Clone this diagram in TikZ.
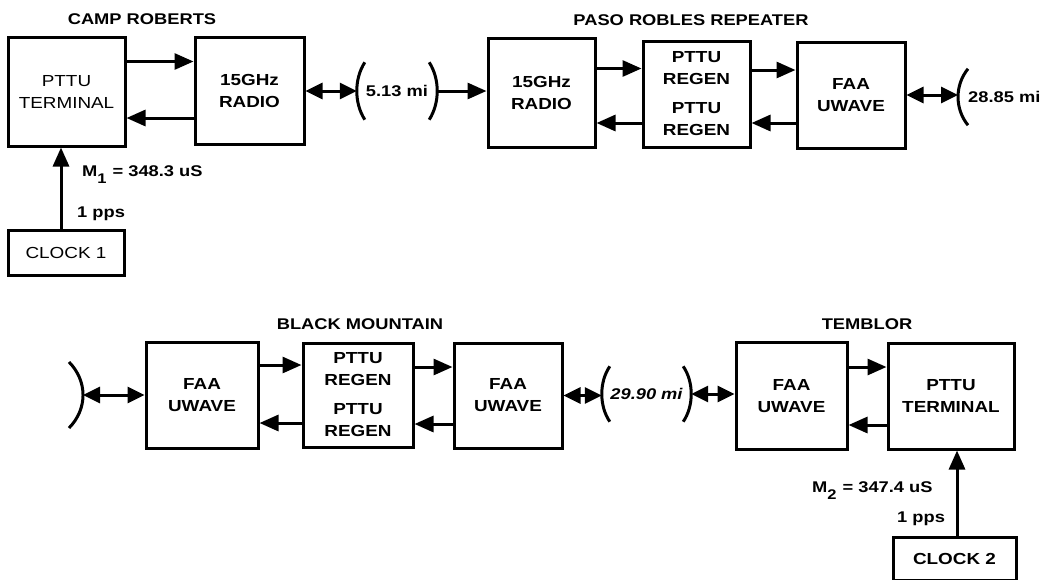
\documentclass[tikz,border=0pt]{standalone}
\usepackage{fontspec}
\setmainfont{Liberation Sans}[FakeStretch=1.18]
\usepackage{tikz}
\usetikzlibrary{arrows.meta}

\begin{document}
\begin{tikzpicture}[x=1pt, y=-1pt,
  box/.style={draw, line width=3pt, inner sep=0pt, align=center, font=\fontsize{16}{22}\selectfont\bfseries},
  title/.style={anchor=base, inner sep=0pt, font=\fontsize{15.5}{18}\selectfont\bfseries},
  lbl/.style={anchor=base west, inner sep=0pt, font=\fontsize{15.5}{18}\selectfont\bfseries},
  dist/.style={inner sep=0pt, font=\fontsize{15.5}{18}\selectfont\bfseries},
  arrow/.style={-{Triangle[length=19pt,width=16pt]}, line width=3pt},
  both/.style={{Triangle[length=17pt,width=16pt]}-{Triangle[length=17pt,width=16pt]}, line width=3pt},
  paren/.style={line width=3pt}
]
\useasboundingbox (0,0) rectangle (1043,579);

% CAMP ROBERTS
\node[title] (camp) at (142,24) {CAMP ROBERTS};
\node[box, minimum width=117pt, minimum height=109pt, font=\fontsize{16}{22}\selectfont] (term1) at (66.5,91.5) {PTTU\\TERMINAL};
\node[box, minimum width=109pt, minimum height=107pt] (radio1) at (249.5,91) {15GHz\\RADIO};
\node[box, minimum width=116pt, minimum height=45pt, font=\fontsize{16}{18}\selectfont] (clk1) at (66,252.5) {CLOCK 1};

\draw[arrow] ([yshift=30pt]term1.east) -- ([yshift=30pt]term1.east -| radio1.west);
\draw[arrow] ([yshift=-27pt]radio1.west) -- ([yshift=-27pt]radio1.west -| term1.east);
\draw[arrow] ([xshift=-5pt]clk1.north) -- ([xshift=-5pt]clk1.north |- term1.south);
\node[lbl] (m1) at (82,176) {M\raisebox{-7pt}{\fontsize{14}{14}\selectfont 1}\hspace{6pt}= 348.3 uS};
\node[lbl] (pps1) at (77,217) {1 pps};

% first hop
\node[dist, minimum width=80pt, minimum height=57pt] (hop1) at (397,91) {5.13 mi};
\draw[paren] ([xshift=8pt]hop1.north west) .. controls ([shift={(-2.7pt,12pt)}]hop1.west) and ([shift={(-2.7pt,-12pt)}]hop1.west) .. ([xshift=8pt]hop1.south west);
\draw[paren] ([xshift=-8pt]hop1.north east) .. controls ([shift={(2.7pt,12pt)}]hop1.east) and ([shift={(2.7pt,-12pt)}]hop1.east) .. ([xshift=-8pt]hop1.south east);
\draw[both] (radio1) -- (hop1);

% PASO ROBLES REPEATER
\node[title] (paso) at (691,25) {PASO ROBLES REPEATER};
\node[box, minimum width=107pt, minimum height=109pt] (radio2) at (541.5,92.5) {15GHz\\RADIO};
\node[box, minimum width=107pt, minimum height=106pt] (regen1) at (696.5,94) {PTTU\\REGEN\\[7pt]PTTU\\REGEN};
\node[box, minimum width=108pt, minimum height=106pt] (faa1) at (851,95) {FAA\\UWAVE};

\draw[arrow] (hop1) -- (hop1 -| radio2.west);
\draw[arrow] ([yshift=24pt]radio2.east) -- ([yshift=24pt]radio2.east -| regen1.west);
\draw[arrow] ([yshift=-29pt]regen1.west) -- ([yshift=-29pt]regen1.west -| radio2.east);
\draw[arrow] ([yshift=24pt]regen1.east) -- ([yshift=24pt]regen1.east -| faa1.west);
\draw[arrow] ([yshift=-28pt]faa1.west) -- ([yshift=-28pt]faa1.west -| regen1.east);

% second hop
\node[dist, anchor=west, inner xsep=10pt, minimum height=56pt] (hop2) at (958,97) {28.85 mi};
\draw[paren] ([xshift=10pt]hop2.north west) .. controls ([shift={(-3.3pt,12pt)}]hop2.west) and ([shift={(-3.3pt,-12pt)}]hop2.west) .. ([xshift=10pt]hop2.south west);
\draw[both] (faa1) -- (faa1 -| hop2.west);

% BLACK MOUNTAIN
\coordinate (hop3) at (83,395);
\draw[paren] ([shift={(-14pt,33pt)}]hop3) .. controls ([shift={(4.7pt,14pt)}]hop3) and ([shift={(4.7pt,-14pt)}]hop3) .. ([shift={(-14pt,-33pt)}]hop3);
\node[title] (black) at (360,329) {BLACK MOUNTAIN};
\node[box, minimum width=112pt, minimum height=106pt] (faa2) at (202,395) {FAA\\UWAVE};
\node[box, minimum width=110pt, minimum height=104pt] (regen2) at (358,395) {PTTU\\REGEN\\[7pt]PTTU\\REGEN};
\node[box, minimum width=108pt, minimum height=105pt] (faa3) at (508,395.5) {FAA\\UWAVE};

\draw[both] (hop3) -- (hop3 -| faa2.west);
\draw[arrow] ([yshift=30pt]faa2.east) -- ([yshift=30pt]faa2.east -| regen2.west);
\draw[arrow] ([yshift=-28pt]regen2.west) -- ([yshift=-28pt]regen2.west -| faa2.east);
\draw[arrow] ([yshift=28pt]regen2.east) -- ([yshift=28pt]regen2.east -| faa3.west);
\draw[arrow] ([yshift=-28.5pt]faa3.west) -- ([yshift=-28.5pt]faa3.west -| regen2.east);

% third hop
\node[dist, minimum width=89pt, minimum height=55pt, font=\fontsize{15.5}{18}\selectfont\bfseries\itshape] (hop4) at (646.5,394) {29.90 mi};
\draw[paren] ([xshift=8pt]hop4.north west) .. controls ([shift={(-2.7pt,12pt)}]hop4.west) and ([shift={(-2.7pt,-12pt)}]hop4.west) .. ([xshift=8pt]hop4.south west);
\draw[paren] ([xshift=-8pt]hop4.north east) .. controls ([shift={(2.7pt,12pt)}]hop4.east) and ([shift={(2.7pt,-12pt)}]hop4.east) .. ([xshift=-8pt]hop4.south east);
\draw[both] (faa3) -- (faa3 -| hop4.west);

% TEMBLOR
\node[title] (temblor) at (867,329) {TEMBLOR};
\node[box, minimum width=111pt, minimum height=107pt] (faa4) at (791.5,396) {FAA\\UWAVE};
\node[box, minimum width=126pt, minimum height=106pt] (term2) at (951,396) {PTTU\\TERMINAL};
\node[box, minimum width=123pt, minimum height=43pt, font=\fontsize{16}{18}\selectfont\bfseries] (clk2) at (954.5,558.5) {CLOCK 2};

\draw[both] (hop4) -- (hop4 -| faa4.west);
\draw[arrow] ([yshift=29pt]faa4.east) -- ([yshift=29pt]faa4.east -| term2.west);
\draw[arrow] ([yshift=-29pt]term2.west) -- ([yshift=-29pt]term2.west -| faa4.east);
\draw[arrow] ([xshift=2.5pt]clk2.north) -- ([xshift=2.5pt]clk2.north |- term2.south);
\node[lbl] (m2) at (812,492) {M\raisebox{-7pt}{\fontsize{14}{14}\selectfont 2}\hspace{6pt}= 347.4 uS};
\node[lbl] (pps2) at (897,522) {1 pps};

\end{tikzpicture}
\end{document}
